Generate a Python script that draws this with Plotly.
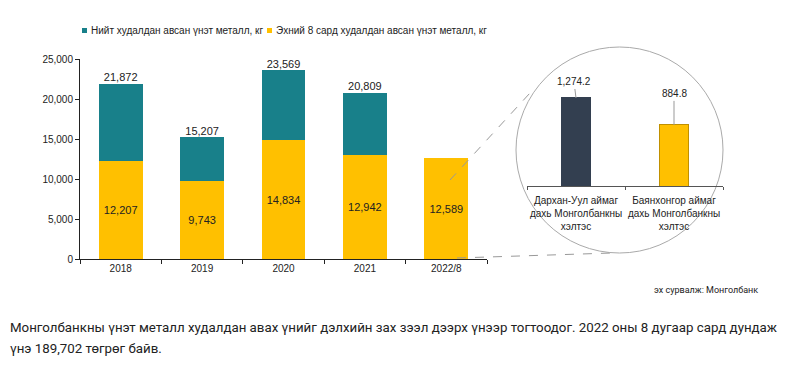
import plotly.graph_objects as go

# ---------------- data ----------------
years = ["2018", "2019", "2020", "2021", "2022/8"]
total_kg = [21872, 15207, 23569, 20809, None]
first8_kg = [12207, 9743, 14834, 12942, 12589]
total_name = "Нийт худалдан авсан үнэт металл, кг"
first8_name = "Эхний 8 сард худалдан авсан үнэт металл, кг"

branches = ["Дархан-Уул аймаг<br>дахь Монголбанкны<br>хэлтэс",
            "Баянхонгор аймаг<br>дахь Монголбанкны<br>хэлтэс"]
branch_kg = [1274.2, 884.8]

y_ticks = [0, 5000, 10000, 15000, 20000, 25000]

source_text = "эх сурвалж: Монголбанк"
para_line1 = ("Монголбанкны үнэт металл худалдан авах үнийг дэлхийн зах зээл дээрх үнээр тогтоодог. "
              "2022 оны 8 дугаар сард дундаж")
para_line2 = "үнэ 189,702 төгрөг байв."

# ---------------- styles ----------------
W, H = 790, 372
TEAL = "#18808A"
GOLD = "#FFC000"
DARK = "#333F50"
FONT = "Arial, Liberation Sans, sans-serif"
NARROW = "Roboto, Arial, sans-serif"


def px(x):
    return x / W


def py(y):
    return 1 - y / H


teal_part = [None if t is None else t - g for t, g in zip(total_kg, first8_kg)]

fig = go.Figure()

fig.add_trace(go.Bar(
    x=years, y=first8_kg, name=first8_name, marker=dict(color=GOLD, line=dict(width=0)),
    text=[f"{v:,}" for v in first8_kg], textposition="inside", insidetextanchor="middle",
    textfont=dict(size=11, color="#222", family=FONT), showlegend=False,
    xaxis="x", yaxis="y"))
fig.add_trace(go.Bar(
    x=years, y=teal_part, name=total_name, marker=dict(color=TEAL, line=dict(width=0)),
    showlegend=False, xaxis="x", yaxis="y"))
fig.add_trace(go.Scatter(
    x=years, y=total_kg, mode="text",
    text=["" if v is None else f"{v:,}" for v in total_kg],
    textposition="top center", textfont=dict(size=11, color="#222", family=FONT),
    showlegend=False, hoverinfo="skip", xaxis="x", yaxis="y"))

# inset bars
fig.add_trace(go.Bar(
    x=branches, y=branch_kg,
    marker=dict(color=[DARK, GOLD], line=dict(color=[DARK, "#C09000"], width=1)),
    width=0.3, showlegend=False, xaxis="x2", yaxis="y2"))

fig.update_layout(
    width=W, height=H,
    margin=dict(l=0, r=0, t=0, b=0, autoexpand=False),
    paper_bgcolor="white", plot_bgcolor="rgba(0,0,0,0)",
    barmode="stack", bargap=0.46,
    font=dict(family=FONT, size=10, color="#222"),
    xaxis=dict(domain=[px(80), px(487)], showline=True, linecolor="#222", linewidth=1,
               ticks="outside", tickson="boundaries", ticklen=4, tickcolor="#222",
               showgrid=False, automargin=False, tickfont=dict(size=10, color="#222")),
    yaxis=dict(domain=[py(259), py(59)], range=[0, 25000], tickvals=y_ticks,
               tickformat=",", showline=True, linecolor="#222", linewidth=1,
               ticks="outside", ticklen=4, tickcolor="#222", showgrid=False,
               zeroline=False, automargin=False, tickfont=dict(size=10, color="#222")),
    xaxis2=dict(domain=[px(527), px(723)], anchor="y2", showline=True, linecolor="#555",
                linewidth=1, ticks="outside", tickson="boundaries", ticklen=3,
                tickcolor="#555", showgrid=False, tickangle=0, automargin=False,
                ticklabelstandoff=5, tickfont=dict(size=10, color="#222")),
    yaxis2=dict(domain=[py(186), py(52)], range=[0, 1940], anchor="x2", visible=False,
                showgrid=False),
)

# inset labels with leader lines
offsets = [(-2, -16), (0, -31)]
for b, v, (ax, ay) in zip(branches, branch_kg, offsets):
    fig.add_annotation(x=b, y=v, xref="x2", yref="y2", text=f"{v:,.1f}",
                       showarrow=True, arrowhead=0, arrowwidth=1, arrowcolor="#999",
                       ax=ax, ay=ay, font=dict(size=10, color="#222", family=FONT))

# magnifier circle and connecting dashed lines
fig.add_shape(type="circle", xref="paper", yref="paper",
              x0=px(516), x1=px(723), y0=py(253), y1=py(47),
              line=dict(color="#AAAAAA", width=1), layer="below")
fig.add_shape(type="line", xref="paper", yref="paper",
              x0=px(450), y0=py(180), x1=px(530), y1=py(93),
              line=dict(color="#999999", width=1, dash="dash"))
fig.add_shape(type="line", xref="paper", yref="paper",
              x0=px(457), y0=py(258), x1=px(612), y1=py(253),
              line=dict(color="#999999", width=1, dash="dash"))

# custom legend
legend_items = [(total_name, TEAL, 85), (first8_name, GOLD, 270)]
for name, col, x0 in legend_items:
    fig.add_shape(type="rect", xref="paper", yref="paper",
                  x0=px(x0 - 3), x1=px(x0 + 2), y0=py(33), y1=py(28),
                  fillcolor=col, line=dict(width=0))
    fig.add_annotation(x=px(x0 + 4), y=py(30), xref="paper", yref="paper",
                       text=name, showarrow=False, xanchor="left", yanchor="middle",
                       font=dict(size=10, color="#222", family=FONT))

# source and paragraph
fig.add_annotation(x=px(760), y=py(290), xref="paper", yref="paper", text=source_text,
                   showarrow=False, xanchor="right", yanchor="middle",
                   font=dict(size=9, color="#222", family=NARROW))
fig.add_annotation(x=px(8), y=py(327), xref="paper", yref="paper", text=para_line1,
                   showarrow=False, xanchor="left", yanchor="middle",
                   font=dict(size=13.3, color="#222", family=NARROW))
fig.add_annotation(x=px(8), y=py(348), xref="paper", yref="paper", text=para_line2,
                   showarrow=False, xanchor="left", yanchor="middle",
                   font=dict(size=13.3, color="#222", family=NARROW))

fig.write_html("out.html", config={"displayModeBar": False},
               post_script="document.body.style.margin='0';document.body.style.overflow='hidden';")
